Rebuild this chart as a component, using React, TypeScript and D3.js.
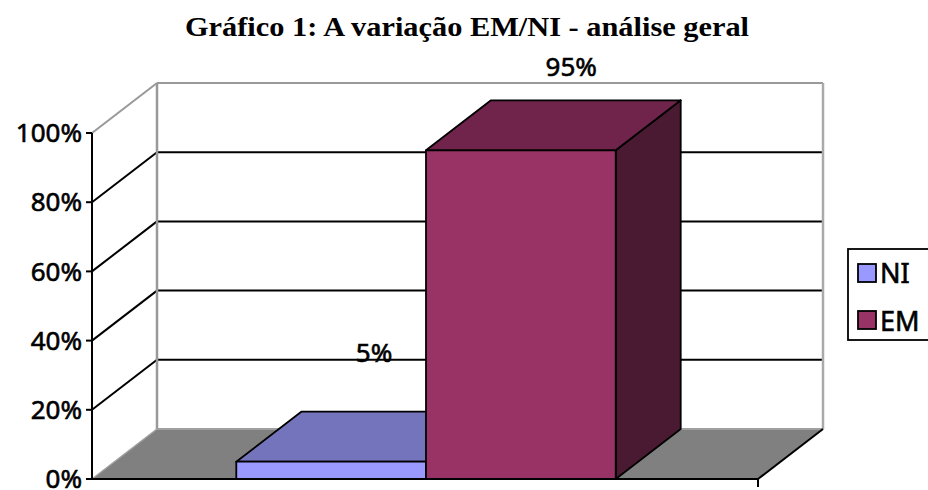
import React from "react";
import * as d3 from "d3";

// ---- Data ----
const categories = ["NI", "EM"];
const values = [0.05, 0.95];
const valueLabels = ["5%", "95%"];
const yTicks = [0, 0.2, 0.4, 0.6, 0.8, 1.0];
const title = "Gráfico 1: A variação EM/NI - análise geral";

// ---- Style / layout ----
const W = 928;
const H = 490;
const frontColors = ["#9999FF", "#993366"];
const topColors = ["#7474BC", "#71244B"];
const sideColors = ["#4C4C80", "#4A1A32"];
const DX = 65;
const DY = -50;
const plotLeft = 92;
const plotRight = 758;
const labelFont = "'Noto Sans', 'Open Sans', sans-serif";

export default function App() {
  const y = d3.scaleLinear().domain([0, 1]).range([479, 133]);
  const x = d3
    .scaleBand<string>()
    .domain(categories)
    .range([plotLeft + 2, plotRight])
    .paddingInner(0)
    .paddingOuter(0.75);
  const bw = x.bandwidth();
  const fmt = d3.format(".0%");
  const y0 = y(0);
  const pts = (arr: [number, number][]) => arr.map((p) => p.join(",")).join(" ");
  const labelLift = [50, 24];
  const textStroke = { stroke: "#000", strokeWidth: 0.6 };

  return (
    <svg
      width={W}
      height={H}
      viewBox={`0 0 ${W} ${H}`}
      style={{ position: "absolute", left: 0, top: 0, background: "#fff" }}
    >
      <rect x={0} y={0} width={W} height={H} fill="#fff" />
      {/* Title */}
      <text
        x={185}
        y={36}
        fontFamily="'Liberation Serif', 'Times New Roman', serif"
        fontWeight="bold"
        fontSize={28}
        textLength={564}
        lengthAdjust="spacingAndGlyphs"
        fill="#000"
      >
        {title}
      </text>

      {/* Back wall gridlines */}
      {yTicks.filter((t) => t > 0).map((t) => (
        <line
          key={"bg" + t}
          x1={plotLeft + DX}
          x2={plotRight + DX}
          y1={y(t) + DY}
          y2={y(t) + DY}
          stroke={t === 1 ? "#999" : "#000"}
          strokeWidth={2}
        />
      ))}
      {/* Side wall diagonals */}
      {yTicks.filter((t) => t > 0).map((t) => (
        <line
          key={"sd" + t}
          x1={plotLeft}
          x2={plotLeft + DX}
          y1={y(t)}
          y2={y(t) + DY}
          stroke={t === 1 ? "#999" : "#000"}
          strokeWidth={2}
        />
      ))}
      {/* Back wall verticals */}
      <line x1={plotLeft + DX} x2={plotLeft + DX} y1={y(1) + DY} y2={y0 + DY} stroke="#999" strokeWidth={2.5} />
      <line x1={plotRight + DX} x2={plotRight + DX} y1={y(1) + DY} y2={y0 + DY} stroke="#aaa" strokeWidth={2.5} />

      {/* Floor */}
      <polygon
        points={pts([
          [plotLeft, y0],
          [plotRight, y0],
          [plotRight + DX, y0 + DY],
          [plotLeft + DX, y0 + DY],
        ])}
        fill="#808080"
      />
      <line x1={plotLeft + DX} x2={plotRight + DX} y1={y0 + DY} y2={y0 + DY} stroke="#a0a0a0" strokeWidth={2} />
      <line x1={plotLeft} x2={plotLeft + DX} y1={y0} y2={y0 + DY} stroke="#a0a0a0" strokeWidth={1.5} />
      <line x1={plotRight} x2={plotRight + DX} y1={y0} y2={y0 + DY} stroke="#000" strokeWidth={2} />

      {/* Bars */}
      {categories.map((c, i) => {
        const x0 = x(c) as number;
        const x1 = x0 + bw;
        const yt = y(values[i]);
        return (
          <g key={c} stroke="#000" strokeWidth={1.8} strokeLinejoin="round">
            <polygon
              points={pts([
                [x1, yt],
                [x1 + DX, yt + DY],
                [x1 + DX, y0 + DY],
                [x1, y0],
              ])}
              fill={sideColors[i]}
            />
            <polygon
              points={pts([
                [x0, yt],
                [x1, yt],
                [x1 + DX, yt + DY],
                [x0 + DX, yt + DY],
              ])}
              fill={topColors[i]}
            />
            <rect x={x0} y={yt} width={bw} height={y0 - yt} fill={frontColors[i]} />
          </g>
        );
      })}

      {/* Front axes */}
      <line x1={plotLeft} x2={plotLeft} y1={y(1)} y2={y0} stroke="#000" strokeWidth={2} />
      <line x1={plotLeft} x2={plotRight} y1={y0} y2={y0} stroke="#000" strokeWidth={2} />
      <line x1={plotRight} x2={plotRight} y1={y0} y2={y0 + 8} stroke="#000" strokeWidth={2} />
      {yTicks.map((t) => (
        <g key={"tk" + t}>
          <line x1={plotLeft - 6} x2={plotLeft} y1={y(t)} y2={y(t)} stroke="#000" strokeWidth={2} />
          <text
            x={82}
            y={y(t)}
            dy="0.35em"
            textAnchor="end"
            fontFamily={labelFont}
            fontSize={26}
            fill="#000"
            {...textStroke}
          >
            {fmt(t)}
          </text>
        </g>
      ))}

      {/* Value labels */}
      {categories.map((c, i) => (
        <text
          key={"vl" + c}
          x={(x(c) as number) + bw * 0.63}
          y={y(values[i]) + DY - labelLift[i]}
          fontFamily={labelFont}
          fontSize={26}
          fill="#000"
          {...textStroke}
        >
          {valueLabels[i]}
        </text>
      ))}

      {/* Legend */}
      <rect x={848} y={249} width={100} height={91} fill="#fff" stroke="#000" strokeWidth={1.8} />
      {categories.map((c, i) => (
        <g key={"lg" + c}>
          <rect x={858} y={264 + i * 47} width={18} height={18} fill={frontColors[i]} stroke="#000" strokeWidth={1.8} />
          <text x={880} y={283 + i * 48} fontFamily={labelFont} fontSize={27} fill="#000" {...textStroke}>
            {c}
          </text>
        </g>
      ))}
    </svg>
  );
}
